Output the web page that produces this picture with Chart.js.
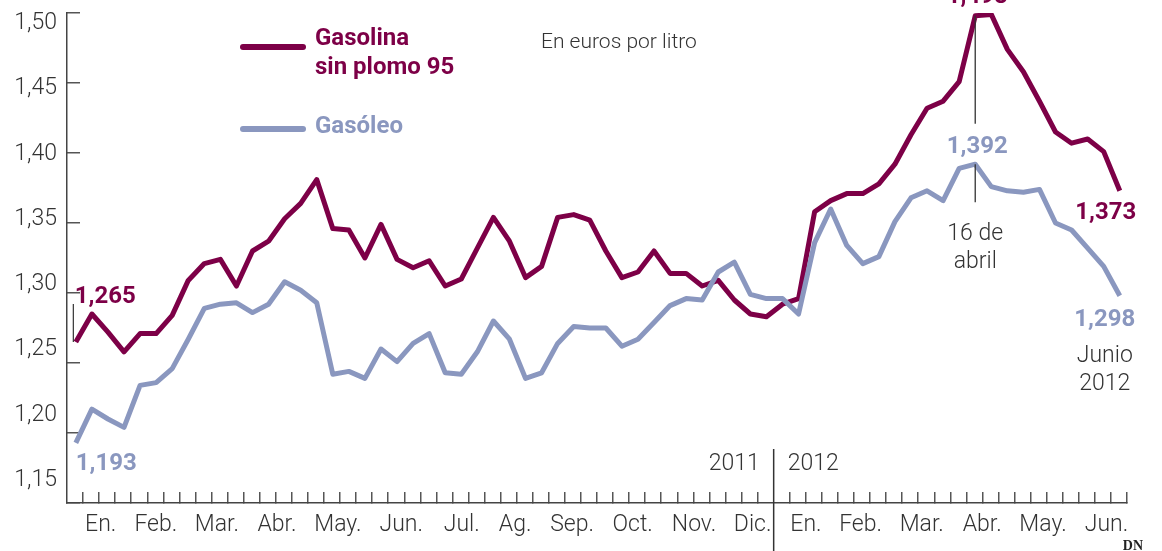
<!DOCTYPE html>
<html>
<head>
<meta charset="utf-8">
<script src="https://cdn.jsdelivr.net/npm/chart.js@4.4.1/dist/chart.umd.min.js"></script>
<style>
  html, body { margin: 0; padding: 0; background: #fff; }
  canvas { display: block; }
</style>
</head>
<body>
<canvas id="chart" width="1162" height="551"></canvas>
<script>
// weekly prices, euros per litre, Jan 2011 - Jun 2012
const gasolina = [
  1.265, 1.285, 1.272, 1.258, 1.271, 1.271, 1.284, 1.309, 1.321, 1.324,
  1.305, 1.330, 1.337, 1.353, 1.364, 1.381, 1.346, 1.345, 1.325, 1.349,
  1.324, 1.318, 1.323, 1.305, 1.310, 1.332, 1.354, 1.337, 1.311, 1.319,
  1.354, 1.356, 1.352, 1.330, 1.311, 1.315, 1.330, 1.314, 1.314, 1.305,
  1.309, 1.295, 1.285, 1.283, 1.292, 1.296, 1.358, 1.366, 1.371, 1.371,
  1.378, 1.392, 1.413, 1.432, 1.437, 1.451, 1.498, 1.499, 1.474, 1.458,
  1.437, 1.415, 1.407, 1.410, 1.401, 1.373
];
const gasoleo = [
  1.193, 1.217, 1.210, 1.204, 1.234, 1.236, 1.246, 1.267, 1.289, 1.292,
  1.293, 1.286, 1.292, 1.308, 1.302, 1.293, 1.242, 1.244, 1.239, 1.260,
  1.251, 1.264, 1.271, 1.243, 1.242, 1.258, 1.280, 1.267, 1.239, 1.243,
  1.264, 1.276, 1.275, 1.275, 1.262, 1.267, 1.279, 1.291, 1.296, 1.295,
  1.315, 1.322, 1.299, 1.296, 1.296, 1.285, 1.336, 1.360, 1.334, 1.321,
  1.326, 1.351, 1.368, 1.373, 1.366, 1.389, 1.392, 1.376, 1.373, 1.372,
  1.374, 1.350, 1.345, 1.332, 1.319, 1.298
];
const monthLabels = ["En.", "Feb.", "Mar.", "Abr.", "May.", "Jun.", "Jul.", "Ag.", "Sep.", "Oct.", "Nov.", "Dic.",
                     "En.", "Feb.", "Mar.", "Abr.", "May.", "Jun."];
const monthTicks = [1.55, 4.98, 8.78, 12.52, 16.32, 20.26, 24.03, 27.35, 30.9, 34.67, 38.49, 42.14,
                    45.46, 48.86, 52.67, 56.43, 60.22, 64.17];
const yTicks = [1.15, 1.20, 1.25, 1.30, 1.35, 1.40, 1.45, 1.50];
const yearBreak = 43;   // week slot taken by the 2011 | 2012 divider
const peakIdx = 56;     // 16 de abril

const RED = "#7d0047";
const BLUE = "#8a97bf";
const INK = "#333";
const LIGHT = "Roboto, 'Liberation Sans', sans-serif";

const weeks = gasolina.map((_, i) => i);
const weekTicks = weeks.filter(i => i !== yearBreak).map(i => i + 0.45);
const fmt = v => v.toFixed(2).replace(".", ",");
const fmt3 = v => v.toFixed(3).replace(".", ",");

// no extra room for overflowing tick labels
const noPad = s => { s.paddingTop = 0; s.paddingBottom = 0; s.paddingLeft = 0; s.paddingRight = 0; };

const notes = {
  id: "notes",
  afterDraw(chart) {
    const ctx = chart.ctx;
    const x = chart.scales.x, y = chart.scales.y;
    const px = i => x.getPixelForValue(i);
    const py = v => y.getPixelForValue(v);
    const last = gasolina.length - 1;

    function text(s, tx, ty, font, color, align) {
      ctx.font = font;
      ctx.fillStyle = color;
      ctx.textAlign = align || "left";
      ctx.textBaseline = "alphabetic";
      ctx.fillText(s, tx, ty);
    }
    function line(x1, y1, x2, y2, w, color, cap) {
      ctx.beginPath();
      ctx.moveTo(x1, y1);
      ctx.lineTo(x2, y2);
      ctx.lineWidth = w;
      ctx.strokeStyle = color;
      ctx.lineCap = cap || "butt";
      ctx.stroke();
    }
    ctx.save();
    const bold = "700 24px " + LIGHT;
    const thin = "300 23px " + LIGHT;

    // legend
    line(243, 47, 303, 47, 6, RED, "round");
    text("Gasolina", 315, 45, bold, RED);
    text("sin plomo 95", 315, 74, bold, RED);
    line(243, 129, 303, 129, 6, BLUE, "round");
    text("Gasóleo", 315, 133, bold, BLUE);
    text("En euros por litro", 541, 48, "300 21px " + LIGHT, INK);

    // first values
    const x0 = px(0);
    line(x0 - 2.5, py(gasolina[0]) - 38, x0 - 2.5, py(gasolina[0]), 1.2, INK);
    text(fmt3(gasolina[0]), x0 - 1, py(gasolina[0]) - 39, bold, RED);
    text(fmt3(gasoleo[0]), x0, py(gasoleo[0]) + 27, bold, BLUE);

    // peak 16 de abril
    const xp = px(peakIdx);
    line(xp, py(gasolina[peakIdx]), xp, py(gasolina[peakIdx]) + 108, 1.3, INK);
    line(xp, py(gasoleo[peakIdx]), xp, py(gasoleo[peakIdx]) + 38, 1.3, INK);
    text(fmt3(gasolina[peakIdx]), xp + 2, 3, bold, RED, "center");
    text(fmt3(gasoleo[peakIdx]), xp + 2, py(gasoleo[peakIdx]) - 11, bold, BLUE, "center");
    text("16 de", xp, 240, thin, INK, "center");
    text("abril", xp, 268, thin, INK, "center");

    // last values
    const xl = px(last);
    text(fmt3(gasolina[last]), xl - 14, py(gasolina[last]) + 28, bold, RED, "center");
    text(fmt3(gasoleo[last]), xl - 15, py(gasoleo[last]) + 30, bold, BLUE, "center");
    text("Junio", xl - 15, 362, thin, INK, "center");
    text("2012", xl - 15, 390, thin, INK, "center");

    // year divider
    const xd = x.getPixelForValue(yearBreak + 0.45);
    line(xd, 449, xd, 551, 1.5, INK);
    text("2011", xd - 14, 470, thin, INK, "right");
    text("2012", xd + 14, 470, thin, INK, "left");

    text("DN", 1143, 550, "700 14px 'Liberation Serif', serif", "#222", "right");
    ctx.restore();
  }
};

new Chart(document.getElementById("chart"), {
  type: "line",
  data: {
    labels: weeks,
    datasets: [
      { label: "Gasóleo", data: gasoleo.map((v, i) => ({ x: i, y: v })), borderColor: BLUE, borderWidth: 5,
        pointRadius: 0, tension: 0, borderJoinStyle: "round", order: 0 },
      { label: "Gasolina sin plomo 95", data: gasolina.map((v, i) => ({ x: i, y: v })), borderColor: RED, borderWidth: 5,
        pointRadius: 0, tension: 0, borderJoinStyle: "round", order: 1 }
    ]
  },
  options: {
    responsive: false,
    animation: false,
    devicePixelRatio: 1,
    layout: { padding: { top: 13, right: 35, left: 0, bottom: 0 } },
    plugins: { legend: { display: false }, tooltip: { enabled: false } },
    scales: {
      x: {
        type: "linear", min: -0.55, max: 65.45,
        afterBuildTicks: s => { s.ticks = weekTicks.map(v => ({ value: v })); },
        afterFit: s => { s.height = 0; noPad(s); },
        ticks: { display: false },
        grid: { drawOnChartArea: false, drawTicks: true, tickLength: -11, color: "#555", lineWidth: 1.5 },
        border: { display: true, color: "#444", width: 1.5 }
      },
      xm: {
        type: "linear", position: "bottom", min: -0.55, max: 65.45,
        afterBuildTicks: s => { s.ticks = monthTicks.map(v => ({ value: v })); },
        afterFit: s => { s.height = 48; noPad(s); },
        grid: { display: false, drawTicks: false },
        border: { display: false },
        ticks: {
          autoSkip: false, maxRotation: 0, padding: 8, color: INK,
          font: { family: LIGHT, size: 23, weight: "300" },
          callback: (v, i) => monthLabels[i]
        }
      },
      y: {
        min: 1.15, max: 1.50,
        afterBuildTicks: s => { s.ticks = yTicks.map(v => ({ value: v })); },
        afterFit: s => { s.width = 0; noPad(s); },
        ticks: { display: false },
        grid: { drawOnChartArea: false, drawTicks: true, tickLength: -13, color: "#555", lineWidth: 1.5 },
        border: { display: true, color: "#444", width: 1.5 }
      },
      yl: {
        position: "left", min: 1.1326, max: 1.5078,
        afterBuildTicks: s => { s.ticks = yTicks.map(v => ({ value: v })); },
        afterFit: s => { s.width = 67; noPad(s); },
        grid: { display: false, drawTicks: false },
        border: { display: false },
        ticks: {
          padding: 10, color: INK,
          font: { family: LIGHT, size: 23, weight: "300" },
          callback: v => fmt(v)
        }
      }
    }
  },
  plugins: [notes]
});
</script>
</body>
</html>
